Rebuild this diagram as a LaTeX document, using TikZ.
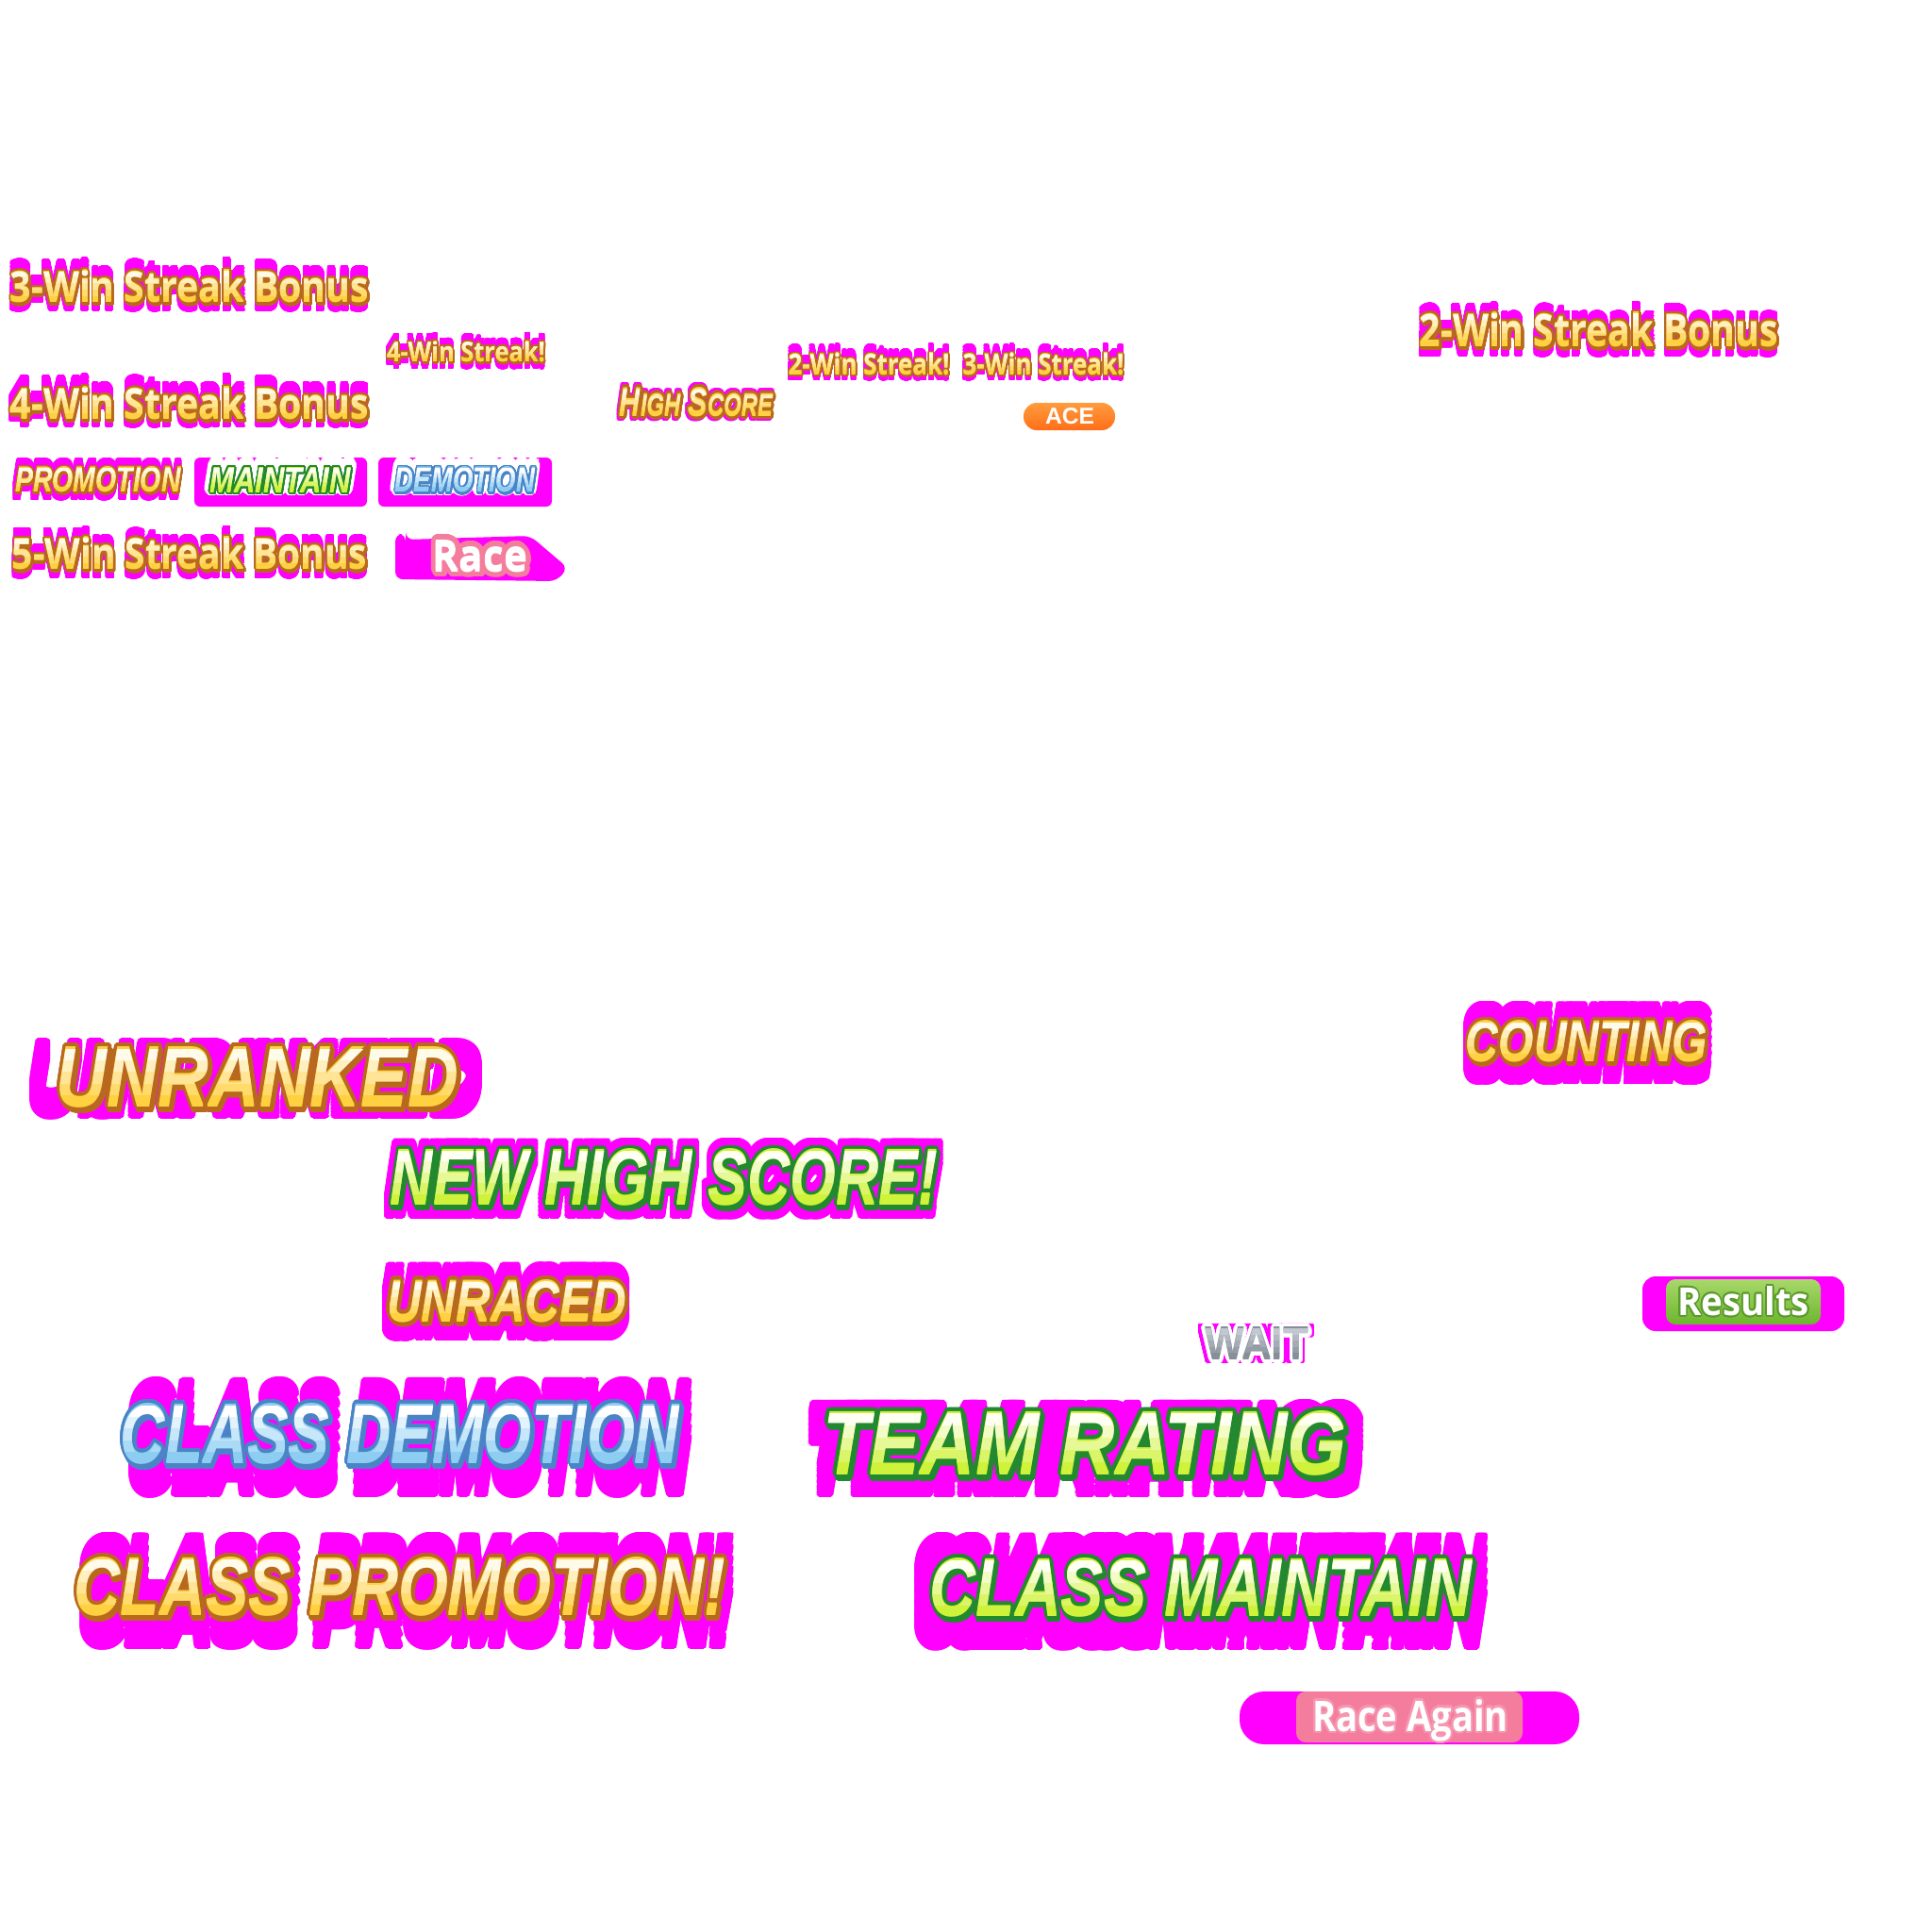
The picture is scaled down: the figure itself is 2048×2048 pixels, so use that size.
\documentclass[tikz,border=0pt]{standalone}
\usepackage{fontspec}
\usepackage{graphicx}
\usepackage{contour}
\newfontfamily\rfont{Open Sans}
\newfontfamily\ifont{Liberation Sans}
\definecolor{mag}{HTML}{FF00FF}
\definecolor{goldtop}{HTML}{FFFBEA}
\definecolor{goldbot}{HTML}{FFD040}
\definecolor{goldline}{HTML}{B8691E}
\definecolor{greentop}{HTML}{FFFFF4}
\definecolor{greenbot}{HTML}{CFF23A}
\definecolor{greenline}{HTML}{22892F}
\definecolor{bluetop}{HTML}{FFFFFF}
\definecolor{bluebot}{HTML}{8ECDF2}
\definecolor{blueline}{HTML}{4A84C6}
\definecolor{graytop}{HTML}{C2C8D0}
\definecolor{graybot}{HTML}{868E99}
\definecolor{racepink}{HTML}{F47C9C}
\definecolor{acetop}{HTML}{FF9C3E}
\definecolor{acebot}{HTML}{FF6E18}
\definecolor{restop}{HTML}{A8D86A}
\definecolor{resbot}{HTML}{6DB52E}
\definecolor{resline}{HTML}{5A9A2A}
\newcommand\setpal[4]{\def\ctop{#1}\def\cbot{#2}\def\cline{#3}\def\clen{#4}}
% magenta smear: x y W H up down left right text
\newcommand\smear[9]{%
  \foreach \sa in {0,0.2,0.4,0.6,0.8,1}{%
    \foreach \sb in {0,1}{%
      \node[inner sep=0] at ({#1-(#7)+\sb*((#7)+(#8))},{#2-(#5)+\sa*((#5)+(#6))})
        {\resizebox{#3pt}{#4pt}{\contourlength{0.035em}\contour[16]{mag}{\textcolor{mag}{#9}}}};
    }}}
% main label: name x y W H text
\newcommand\mainlbl[6]{%
  \node[inner sep=0] at ({#2+#5*0.03},{#3+#5*0.07})
    {\resizebox{#4pt}{#5pt}{\contourlength{\clen}\contour[24]{\cline}{\textcolor{\cline}{#6}}}};
  \node[inner sep=0] (#1) at (#2,#3)
    {\resizebox{#4pt}{#5pt}{\contourlength{\clen}\contour[32]{\cline}{\textcolor{\cbot}{#6}}}};
  \foreach \bi in {0,...,4}{%
    \pgfmathtruncatemacro\pct{100-\bi*25}%
    \begin{scope}
      \clip ({#2-#4},{#3-#5/2+\bi*#5/5}) rectangle ({#2+#4},{#3-#5/2+(\bi+1)*#5/5});
      \node[inner sep=0] at (#2,#3) {\resizebox{#4pt}{#5pt}{\textcolor{\ctop!\pct!\cbot}{#6}}};
    \end{scope}}%
}
\newcommand\halo[5]{%
  \node[inner sep=0] at (#1,#2) {\resizebox{#3pt}{#4pt}{\contourlength{0.2em}\contour[24]{white}{\textcolor{white}{#5}}}};}
\begin{document}
\begin{tikzpicture}[x=1pt,y=-1pt]
\useasboundingbox (0,0) rectangle (2048,2048);
\fill[white] (0,0) rectangle (2048,2048);

% ---------- top group ----------
\setpal{goldtop}{goldbot}{goldline}{0.05em}
\smear{201}{304}{380}{34}{12}{9}{0}{0}{\rfont\bfseries 3-Win Streak Bonus}
\mainlbl{bonus3}{201}{304}{380}{34}{\rfont\bfseries 3-Win Streak Bonus}

\smear{494}{373}{168}{22}{8}{7}{0}{0}{\rfont\bfseries 4-Win Streak!}
\mainlbl{streak4}{494}{373}{168}{22}{\rfont\bfseries 4-Win Streak!}

\smear{201}{428}{380}{34}{13}{8}{0}{0}{\rfont\bfseries 4-Win Streak Bonus}
\mainlbl{bonus4}{201}{428}{380}{34}{\rfont\bfseries 4-Win Streak Bonus}

\smear{104}{509}{175}{26}{8}{8}{2}{0}{\ifont\bfseries\itshape PROMOTION}
\mainlbl{promo}{104}{509}{175}{26}{\ifont\bfseries\itshape PROMOTION}

\fill[mag, rounded corners=6] (206,485) rectangle (389,537);
\halo{297}{509}{149}{26}{\ifont\bfseries\itshape MAINTAIN}
\setpal{greentop}{greenbot}{greenline}{0.05em}
\mainlbl{maint}{297}{509}{149}{26}{\ifont\bfseries\itshape MAINTAIN}

\fill[mag, rounded corners=6] (401,485) rectangle (585,537);
\halo{493}{509}{148}{26}{\ifont\bfseries\itshape DEMOTION}
\setpal{bluetop}{bluebot}{blueline}{0.05em}
\mainlbl{demo}{493}{509}{148}{26}{\ifont\bfseries\itshape DEMOTION}

\setpal{goldtop}{goldbot}{goldline}{0.05em}
\smear{201}{587}{376}{34}{10}{9}{0}{0}{\rfont\bfseries 5-Win Streak Bonus}
\mainlbl{bonus5}{201}{587}{376}{34}{\rfont\bfseries 5-Win Streak Bonus}

\fill[mag, rounded corners=8] (419,566) -- (430,566) -- (430,572) -- (562,568) -- (602,602) -- (590,616) -- (419,614) -- cycle;
\setpal{white}{white}{racepink}{0.12em}
\mainlbl{race}{509}{591}{100}{32}{\rfont\bfseries Race}

\setpal{goldtop}{goldbot}{goldline}{0.07em}
\smear{738}{427}{162}{29}{5}{4}{2}{0}{\ifont\bfseries\itshape H\scalebox{0.78}{IGH} S\scalebox{0.78}{CORE}}
\mainlbl{hiscore}{738}{427}{162}{29}{\ifont\bfseries\itshape H\scalebox{0.78}{IGH} S\scalebox{0.78}{CORE}}

\setpal{goldtop}{goldbot}{goldline}{0.05em}
\smear{921}{386}{171}{23}{9}{6}{0}{0}{\rfont\bfseries 2-Win Streak!}
\mainlbl{streak2}{921}{386}{171}{23}{\rfont\bfseries 2-Win Streak!}
\smear{1106}{386}{171}{23}{9}{6}{0}{0}{\rfont\bfseries 3-Win Streak!}
\mainlbl{streak3}{1106}{386}{171}{23}{\rfont\bfseries 3-Win Streak!}

\shade[top color=acetop, bottom color=acebot, rounded corners=14] (1085,427) rectangle (1182,456);
\node[inner sep=0] (ace) at (1134,441.5) {\resizebox{52pt}{17pt}{\textcolor{white}{\ifont\bfseries ACE}}};

\smear{1695}{350}{380}{36}{10}{10}{0}{0}{\rfont\bfseries 2-Win Streak Bonus}
\mainlbl{bonus2}{1695}{350}{380}{36}{\rfont\bfseries 2-Win Streak Bonus}

% ---------- bottom group ----------
\setpal{goldtop}{goldbot}{goldline}{0.045em}
\smear{273}{1143}{426}{62}{6}{11}{30}{25}{\ifont\bfseries\itshape UNRANKED}
\mainlbl{unranked}{273}{1143}{426}{62}{\ifont\bfseries\itshape UNRANKED}

\setpal{greentop}{greenbot}{greenline}{0.045em}
\smear{704}{1249}{580}{58}{9}{13}{5}{5}{\ifont\bfseries\itshape NEW HIGH SCORE!}
\mainlbl{newhigh}{704}{1249}{580}{58}{\ifont\bfseries\itshape NEW HIGH SCORE!}

\setpal{goldtop}{goldbot}{goldline}{0.06em}
\smear{1682}{1105}{256}{42}{19}{23}{3}{5}{\ifont\bfseries\itshape COUNTING}
\mainlbl{counting}{1682}{1105}{256}{42}{\ifont\bfseries\itshape COUNTING}

\smear{537}{1380}{254}{43}{17}{19}{6}{3}{\ifont\bfseries\itshape UNRACED}
\mainlbl{unraced}{537}{1380}{254}{43}{\ifont\bfseries\itshape UNRACED}

\setpal{graytop}{graybot}{white}{0.07em}
\smear{1332}{1425}{110}{33}{3}{3}{5}{5}{\ifont\bfseries WAIT}
\mainlbl{wait}{1332}{1425}{110}{33}{\ifont\bfseries WAIT}

\fill[mag, rounded corners=14] (1741,1353) rectangle (1955,1411);
\shade[top color=restop, bottom color=resbot, rounded corners=10] (1766,1356) rectangle (1930,1404);
\node[inner sep=0] (results) at (1848,1380) {\resizebox{140pt}{31pt}{\contourlength{0.04em}\contour[16]{resline}{\textcolor{white}{\rfont\bfseries Results}}}};

\setpal{bluetop}{bluebot}{blueline}{0.045em}
\smear{424}{1521}{592}{62}{25}{34}{-10}{8}{\ifont\bfseries\itshape CLASS DEMOTION}
\mainlbl{cdemo}{424}{1521}{592}{62}{\ifont\bfseries\itshape CLASS DEMOTION}

\setpal{greentop}{greenbot}{greenline}{0.045em}
\smear{1150}{1531}{555}{66}{9}{22}{18}{18}{\ifont\bfseries\itshape TEAM RATING}
\mainlbl{team}{1150}{1531}{555}{66}{\ifont\bfseries\itshape TEAM RATING}

\setpal{goldtop}{goldbot}{goldline}{0.045em}
\smear{424}{1683}{690}{60}{24}{34}{-5}{8}{\ifont\bfseries\itshape CLASS PROMOTION!}
\mainlbl{cpromo}{424}{1683}{690}{60}{\ifont\bfseries\itshape CLASS PROMOTION!}

\setpal{greentop}{greenbot}{greenline}{0.045em}
\smear{1273}{1684}{574}{60}{25}{34}{17}{14}{\ifont\bfseries\itshape CLASS MAINTAIN}
\mainlbl{cmaint}{1273}{1684}{574}{60}{\ifont\bfseries\itshape CLASS MAINTAIN}

\fill[mag, rounded corners=26] (1314,1793) rectangle (1674,1849);
\fill[racepink, rounded corners=10] (1374,1793) rectangle (1614,1847);
\node[inner sep=0, anchor=base] (again) at (1495,1835) {\resizebox{208pt}{34pt}{\contourlength{0.05em}\contour[24]{racepink!80!white}{\textcolor{white}{\rfont\bfseries Race Again}}}};
\end{tikzpicture}
\end{document}
